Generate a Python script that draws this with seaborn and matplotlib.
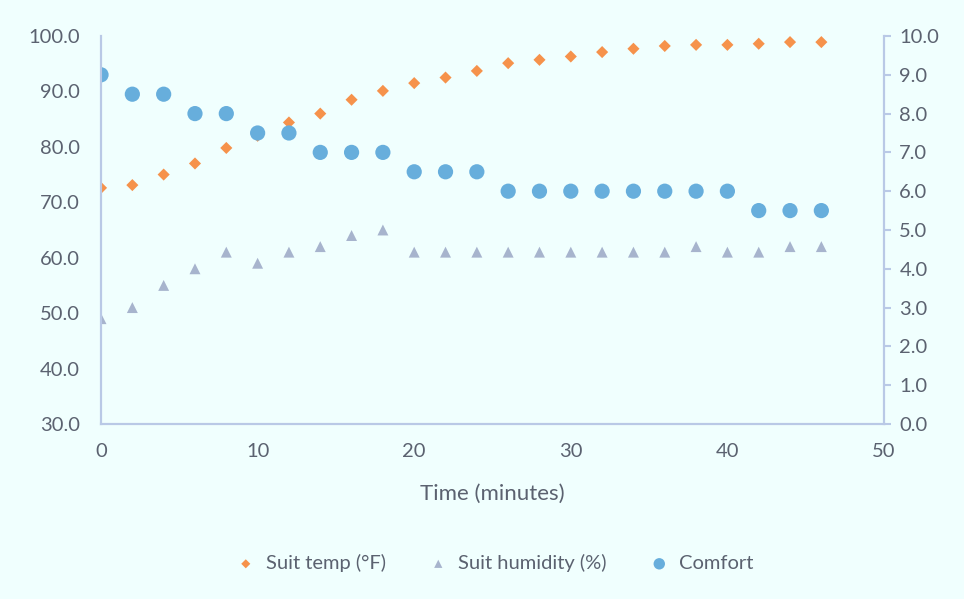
import numpy as np
import pandas as pd
import matplotlib.pyplot as plt
import seaborn as sns

# data
minutes = [0, 2, 4, 6, 8, 10, 12, 14, 16, 18, 20, 22, 24, 26, 28, 30, 32, 34, 36, 38, 40, 42, 44, 46]
suit_temp = [72.6, 73.1, 75.0, 77.0, 79.8, 82.0, 84.4, 86.0, 88.5, 90.1, 91.5, 92.5, 93.7, 95.1,
             95.7, 96.3, 97.1, 97.7, 98.2, 98.4, 98.4, 98.6, 98.9, 98.9]
suit_humidity = [49, 51, 55, 58, 61, 59, 61, 62, 64, 65, 61, 61, 61, 61, 61, 61, 61, 61, 61, 62,
                 61, 61, 62, 62]
comfort = [9.0, 8.5, 8.5, 8.0, 8.0, 7.5, 7.5, 7.0, 7.0, 7.0, 6.5, 6.5, 6.5, 6.0, 6.0, 6.0, 6.0,
           6.0, 6.0, 6.0, 6.0, 5.5, 5.5, 5.5]

ds = pd.DataFrame({'minutes': minutes, 'temp': suit_temp,
                   'humidity': suit_humidity, 'comfort': comfort})

bg = '#F0FFFE'
txt = '#5B6270'
spine = '#B9C9E6'

sns.set_style('white')
plt.rcParams['font.family'] = ['Lato', 'DejaVu Sans']

fig = plt.figure(figsize=(9.64, 5.99), dpi=100, facecolor=bg)
ax = fig.add_axes([0.1048, 0.2922, 0.8122, 0.6477])
ax.set_facecolor(bg)
ax2 = ax.twinx()

sns.scatterplot(data=ds, x='minutes', y='temp', ax=ax, marker='D', s=38,
                color='#F6924B', edgecolor='none', label='Suit temp (°F)', legend=False)
sns.scatterplot(data=ds, x='minutes', y='humidity', ax=ax, marker='^', s=62,
                color='#A7B4CD', edgecolor='none', label='Suit humidity (%)', legend=False)
sns.scatterplot(data=ds, x='minutes', y='comfort', ax=ax2, marker='o', s=120,
                color='#67AEDC', edgecolor='none', label='Comfort', legend=False)

ax.set_xlim(0, 50)
ax.set_ylim(30, 100)
ax2.set_ylim(0, 10)
ax.set_xticks(range(0, 51, 10))
ax.set_yticks(range(30, 101, 10))
ax2.set_yticks(range(0, 11, 1))
ax.set_yticklabels([f'{v:.1f}' for v in range(30, 101, 10)])
ax2.set_yticklabels([f'{v:.1f}' for v in range(0, 11, 1)])

for a in (ax, ax2):
    a.spines['top'].set_visible(False)
    for side in ['left', 'bottom', 'right']:
        a.spines[side].set_color(spine)
        a.spines[side].set_linewidth(1.5)

ax.tick_params(axis='y', length=0, pad=15, labelsize=14.5, labelcolor=txt)
ax.tick_params(axis='x', length=0, pad=14, labelsize=14.5, labelcolor=txt)
ax2.tick_params(axis='y', length=5, width=1.5, color=spine, pad=6, labelsize=14.5, labelcolor=txt)

ax.set_xlabel('Time (minutes)', fontsize=16, color=txt, labelpad=17)
ax.set_ylabel('')
ax2.set_ylabel('')

h1, l1 = ax.get_legend_handles_labels()
h2, l2 = ax2.get_legend_handles_labels()
fig.legend(h1 + h2, l1 + l2, loc='center', bbox_to_anchor=(0.508, 0.06), ncol=3,
           frameon=False, fontsize=14.5, labelcolor=txt, handletextpad=0.0,
           columnspacing=1.6, markerscale=0.75)

fig.savefig('out.png', dpi=100, facecolor=bg)
